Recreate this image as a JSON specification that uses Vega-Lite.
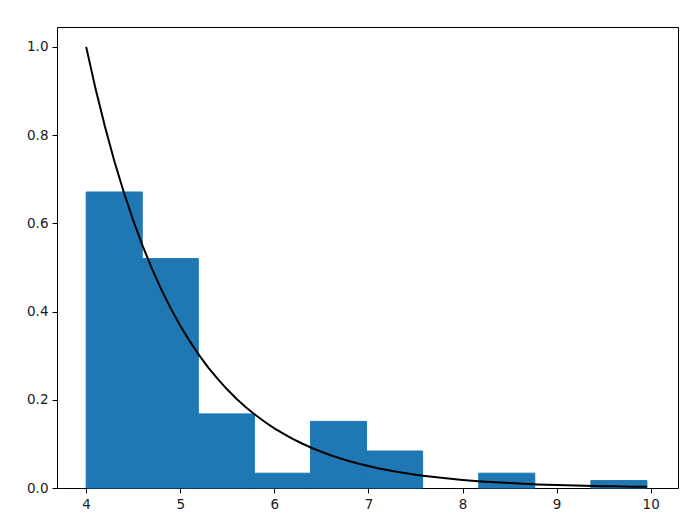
{
  "$schema": "https://vega.github.io/schema/vega-lite/v6.json",
  "width": 621,
  "height": 461,
  "autosize": "none",
  "padding": {"left": 57, "top": 27, "right": 20, "bottom": 39},
  "background": "white",
  "config": {
    "view": {"stroke": "black", "strokeWidth": 1},
    "axis": {
      "grid": false,
      "domain": false,
      "tickColor": "black",
      "tickSize": 5,
      "tickWidth": 1,
      "labelFont": "DejaVu Sans",
      "labelFontSize": 13.5,
      "labelColor": "#1a1a1a",
      "labelPadding": 4,
      "title": null
    }
  },
  "datasets": {
    "bins": [
      {"x0": 4.0, "x1": 4.596, "density": 0.671},
      {"x0": 4.596, "x1": 5.192, "density": 0.520},
      {"x0": 5.192, "x1": 5.788, "density": 0.168},
      {"x0": 5.788, "x1": 6.384, "density": 0.0336},
      {"x0": 6.384, "x1": 6.98, "density": 0.151},
      {"x0": 6.98, "x1": 7.576, "density": 0.0839},
      {"x0": 7.576, "x1": 8.172, "density": 0},
      {"x0": 8.172, "x1": 8.768, "density": 0.0336},
      {"x0": 8.768, "x1": 9.364, "density": 0},
      {"x0": 9.364, "x1": 9.96, "density": 0.0168}
    ],
    "curve": [
      {"x": 4.0, "pdf": 1.0},
      {"x": 4.1, "pdf": 0.9048},
      {"x": 4.2, "pdf": 0.8187},
      {"x": 4.3, "pdf": 0.7408},
      {"x": 4.4, "pdf": 0.6703},
      {"x": 4.5, "pdf": 0.6065},
      {"x": 4.6, "pdf": 0.5488},
      {"x": 4.7, "pdf": 0.4966},
      {"x": 4.8, "pdf": 0.4493},
      {"x": 4.9, "pdf": 0.4066},
      {"x": 5.0, "pdf": 0.3679},
      {"x": 5.1, "pdf": 0.3329},
      {"x": 5.2, "pdf": 0.3012},
      {"x": 5.3, "pdf": 0.2725},
      {"x": 5.4, "pdf": 0.2466},
      {"x": 5.5, "pdf": 0.2231},
      {"x": 5.6, "pdf": 0.2019},
      {"x": 5.7, "pdf": 0.1827},
      {"x": 5.8, "pdf": 0.1653},
      {"x": 5.9, "pdf": 0.1496},
      {"x": 6.0, "pdf": 0.1353},
      {"x": 6.1, "pdf": 0.1225},
      {"x": 6.2, "pdf": 0.1108},
      {"x": 6.3, "pdf": 0.1003},
      {"x": 6.4, "pdf": 0.0907},
      {"x": 6.5, "pdf": 0.0821},
      {"x": 6.6, "pdf": 0.0743},
      {"x": 6.7, "pdf": 0.0672},
      {"x": 6.8, "pdf": 0.0608},
      {"x": 6.9, "pdf": 0.0550},
      {"x": 7.0, "pdf": 0.0498},
      {"x": 7.1, "pdf": 0.0450},
      {"x": 7.2, "pdf": 0.0408},
      {"x": 7.3, "pdf": 0.0369},
      {"x": 7.4, "pdf": 0.0334},
      {"x": 7.5, "pdf": 0.0302},
      {"x": 7.6, "pdf": 0.0273},
      {"x": 7.7, "pdf": 0.0247},
      {"x": 7.8, "pdf": 0.0224},
      {"x": 7.9, "pdf": 0.0202},
      {"x": 8.0, "pdf": 0.0183},
      {"x": 8.1, "pdf": 0.0166},
      {"x": 8.2, "pdf": 0.0150},
      {"x": 8.3, "pdf": 0.0136},
      {"x": 8.4, "pdf": 0.0123},
      {"x": 8.5, "pdf": 0.0111},
      {"x": 8.6, "pdf": 0.0101},
      {"x": 8.7, "pdf": 0.0091},
      {"x": 8.8, "pdf": 0.0082},
      {"x": 8.9, "pdf": 0.0074},
      {"x": 9.0, "pdf": 0.0067},
      {"x": 9.1, "pdf": 0.0061},
      {"x": 9.2, "pdf": 0.0055},
      {"x": 9.3, "pdf": 0.0050},
      {"x": 9.4, "pdf": 0.0045},
      {"x": 9.5, "pdf": 0.0041},
      {"x": 9.6, "pdf": 0.0037},
      {"x": 9.7, "pdf": 0.0033},
      {"x": 9.8, "pdf": 0.0030},
      {"x": 9.9, "pdf": 0.0027},
      {"x": 9.96, "pdf": 0.0026}
    ]
  },
  "layer": [
    {
      "data": {"name": "bins"},
      "transform": [{"filter": "datum.density > 0"}],
      "mark": {"type": "rect", "color": "#1f77b4", "stroke": "#1f77b4", "strokeWidth": 1, "strokeOpacity": 1},
      "encoding": {
        "x": {"field": "x0", "type": "quantitative", "scale": {"domain": [3.69, 10.29], "nice": false, "zero": false},
              "axis": {"values": [4, 5, 6, 7, 8, 9, 10], "format": "d"}},
        "x2": {"field": "x1"},
        "y": {"field": "density", "type": "quantitative", "scale": {"domain": [0, 1.045], "nice": false},
              "axis": {"values": [0, 0.2, 0.4, 0.6, 0.8, 1.0], "format": ".1f"}},
        "y2": {"datum": 0}
      }
    },
    {
      "data": {"name": "curve"},
      "mark": {"type": "line", "color": "black", "strokeWidth": 2},
      "encoding": {
        "x": {"field": "x", "type": "quantitative"},
        "y": {"field": "pdf", "type": "quantitative"}
      }
    }
  ]
}
